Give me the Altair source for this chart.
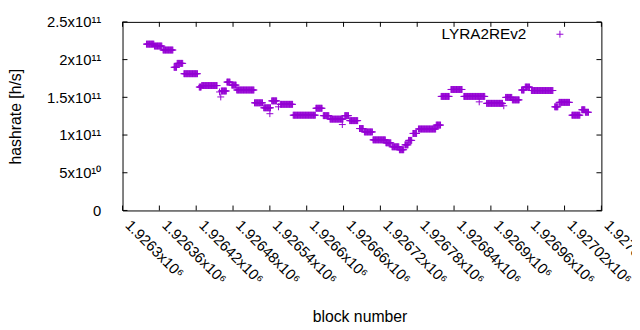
import altair as alt
import pandas as pd

BASE = 1926000
SERIES = "LYRA2REv2"
COLOR = "#9400D3"

# step segments (block offset from BASE, inclusive) and hashrate in 1e9 h/s
seg_start = [339, 352, 366, 384, 389, 400, 425, 429, 461, 470, 478, 486, 515, 530, 543, 557,
             578, 615, 627, 638, 662, 670, 686, 694, 708, 729, 739, 751, 760, 766, 773, 782,
             811, 819, 835, 856, 893, 924, 935, 950, 956, 966, 1004, 1011, 1032, 1048, 1054]
seg_end = [351, 364, 382, 388, 398, 422, 428, 454, 469, 475, 485, 514, 528, 541, 551, 577,
           614, 625, 636, 659, 668, 683, 692, 707, 728, 737, 750, 758, 765, 771, 779, 810,
           818, 832, 853, 890, 919, 934, 946, 954, 963, 1001, 1009, 1028, 1045, 1053, 1059]
seg_value = [220.5, 218.0, 212.7, 189.8, 195.0, 181.3, 163.6, 165.6, 158.4, 170.2, 166.2, 159.7,
             142.7, 136.1, 145.3, 140.7, 126.3, 135.5, 125.7, 121.1, 125.7, 119.1, 108.6, 104.1,
             93.6, 89.7, 84.4, 80.5, 87.0, 92.9, 102.1, 108.0, 113.2, 151.2, 160.4, 151.2,
             142.0, 149.9, 146.6, 159.7, 163.6, 159.0, 137.4, 143.3, 126.3, 133.5, 130.2]

# isolated points
out_block = [458, 460, 540, 554, 658, 881, 921]
out_value = [157.1, 150.5, 128.3, 137.4, 113.9, 144.0, 138.8]

rows = []
for s, e, v in zip(seg_start, seg_end, seg_value):
    for b in range(s, e + 1):
        rows.append({"block": BASE + b, "hashrate": v * 1e9})
for b, v in zip(out_block, out_value):
    rows.append({"block": BASE + b, "hashrate": v * 1e9})
df = pd.DataFrame(rows)

x_tick_values = [1926300, 1926360, 1926420, 1926480, 1926540, 1926600, 1926660,
                 1926720, 1926780, 1926840, 1926900, 1926960, 1927020, 1927080]
x_tick_labels = ["1.9263x10⁶", "1.92636x10⁶", "1.92642x10⁶", "1.92648x10⁶", "1.92654x10⁶",
                 "1.9266x10⁶", "1.92666x10⁶", "1.92672x10⁶", "1.92678x10⁶", "1.92684x10⁶",
                 "1.9269x10⁶", "1.92696x10⁶", "1.92702x10⁶", "1.92708x10⁶"]
y_tick_values = [0, 5e10, 1e11, 1.5e11, 2e11, 2.5e11]
y_tick_labels = ["0", "5x10¹⁰", "1x10¹¹", "1.5x10¹¹", "2x10¹¹", "2.5x10¹¹"]


def label_expr(values, labels):
    parts = [f"datum.value == {v:.0f} ? '{l}'" for v, l in zip(values, labels)]
    return " : ".join(parts) + " : ''"


W, H = 485, 191
FONT = "Liberation Sans"
CROSS = "M-1,0L1,0M0,-1L0,1"

x_scale = alt.Scale(domain=[1926300, 1927080], nice=False, zero=False)
y_scale = alt.Scale(domain=[0, 2.5e11], nice=False, zero=False)

x_axis = alt.Axis(values=x_tick_values, labelExpr=label_expr(x_tick_values, x_tick_labels),
                  labelAngle=45, labelAlign="left", labelBaseline="top", labelPadding=7,
                  labelOffset=10,
                  labelFlush=False, labelOverlap=False, labelBound=False,
                  ticks=False, domain=False, grid=False,
                  labelFont=FONT, labelFontSize=15, labelColor="black",
                  title="block number", titleFont=FONT, titleFontSize=16,
                  titleFontWeight="normal", titleColor="black",
                  titleX=240, titleY=107, titleBaseline="middle")
y_axis = alt.Axis(values=y_tick_values, labelExpr=label_expr(y_tick_values, y_tick_labels),
                  labelPadding=22, labelFlush=False, labelOverlap=False, labelBound=False,
                  ticks=False, domain=False, grid=False,
                  labelFont=FONT, labelFontSize=15, labelColor="black",
                  title="hashrate [h/s]", titleFont=FONT, titleFontSize=16,
                  titleFontWeight="normal", titleColor="black",
                  titleX=-108, titleY=H / 2, titleBaseline="middle")

X = alt.X("block:Q", scale=x_scale, axis=x_axis)
Y = alt.Y("hashrate:Q", scale=y_scale, axis=y_axis)

points = alt.Chart(df).mark_point(
    shape=CROSS, filled=False, size=49, strokeWidth=1, color=COLOR, opacity=1
).encode(x=X, y=Y)

xt = pd.DataFrame({"block": x_tick_values})
yt = pd.DataFrame({"hashrate": y_tick_values})
tick_bottom = alt.Chart(xt).mark_rule(color="black", strokeWidth=1).encode(
    x=X, y=alt.value(H), y2=alt.value(H - 5))
tick_top = alt.Chart(xt).mark_rule(color="black", strokeWidth=1).encode(
    x=X, y=alt.value(0), y2=alt.value(5))
tick_left = alt.Chart(yt).mark_rule(color="black", strokeWidth=1).encode(
    y=Y, x=alt.value(0), x2=alt.value(5))
tick_right = alt.Chart(yt).mark_rule(color="black", strokeWidth=1).encode(
    y=Y, x=alt.value(W), x2=alt.value(W - 5))

leg = pd.DataFrame({"name": [SERIES]})
leg_text = alt.Chart(leg).mark_text(align="right", baseline="middle", fontSize=15.5,
                                    font=FONT, color="black").encode(
    text="name:N", x=alt.value(409), y=alt.value(12))
leg_sym = alt.Chart(leg).mark_point(shape=CROSS, filled=False, size=49, strokeWidth=1,
                                    color=COLOR, opacity=1).encode(
    x=alt.value(443), y=alt.value(12.5))

chart = alt.layer(points, tick_bottom, tick_top, tick_left, tick_right, leg_text, leg_sym).properties(
    width=W, height=H,
    autosize=alt.AutoSizeParams(type="none"),
    padding={"left": 116, "top": 12, "right": 31, "bottom": 119},
    background="white",
).configure_view(stroke="black", strokeWidth=1)

chart.save("out.html", embed_options={"renderer": "svg", "actions": False})
